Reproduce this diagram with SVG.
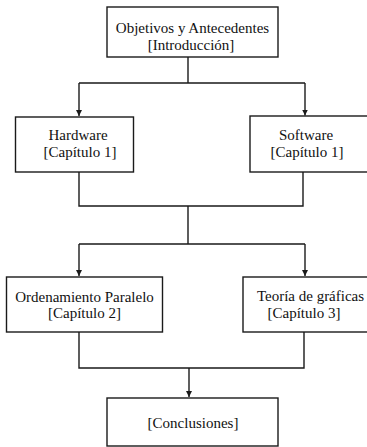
<svg xmlns="http://www.w3.org/2000/svg" width="367" height="447" viewBox="0 0 367 447">
<style>
.box{fill:#fff;stroke:#1a1a1a;stroke-width:1.4}
.ln{fill:none;stroke:#1a1a1a;stroke-width:1.4}
text{font-family:"Liberation Serif","Times New Roman",serif;font-size:15px;fill:#111;text-anchor:middle}
</style>
<defs>
<marker id="arr" markerUnits="userSpaceOnUse" markerWidth="8" markerHeight="8" refX="6" refY="3" orient="auto">
<path d="M0,0 L6,3 L0,6 Z" fill="#1a1a1a"/>
</marker>
</defs>
<rect width="367" height="447" fill="#fff"/>
<g id="connectors">
<path class="ln" d="M188,57 V83 M79,83 H305"/>
<path class="ln" d="M79,83 V116" marker-end="url(#arr)"/>
<path class="ln" d="M305,83 V115.5" marker-end="url(#arr)"/>
<path class="ln" d="M79,172 V206 H303 V172 M188,206 V244 M79,244 H305"/>
<path class="ln" d="M79,244 V276" marker-end="url(#arr)"/>
<path class="ln" d="M305,244 V276" marker-end="url(#arr)"/>
<path class="ln" d="M79,332 V368 H304 V332 M189,368"/>
<path class="ln" d="M189,368 V397" marker-end="url(#arr)"/>
</g>
<g id="objetivos">
<rect class="box" x="107" y="7" width="171" height="50"/>
<text x="192.5" y="33">Objetivos y Antecedentes</text>
<text x="191" y="50">[Introducción]</text>
</g>
<g id="hardware">
<rect class="box" x="15.5" y="117" width="118" height="55"/>
<text x="78" y="140">Hardware</text>
<text x="80" y="157">[Capítulo 1]</text>
</g>
<g id="software">
<rect class="box" x="250" y="116" width="120" height="56"/>
<text x="306" y="140">Software</text>
<text x="307" y="157">[Capítulo 1]</text>
</g>
<g id="ordenamiento">
<rect class="box" x="6.5" y="277" width="156" height="55"/>
<text x="84.5" y="302">Ordenamiento Paralelo</text>
<text x="84.5" y="318">[Capítulo 2]</text>
</g>
<g id="teoria">
<rect class="box" x="243" y="277" width="127" height="55"/>
<text x="310.5" y="301">Teoría de gráficas</text>
<text x="304" y="318">[Capítulo 3]</text>
</g>
<g id="conclusiones">
<rect class="box" x="107" y="398" width="171" height="48"/>
<text x="193" y="428">[Conclusiones]</text>
</g>
</svg>
